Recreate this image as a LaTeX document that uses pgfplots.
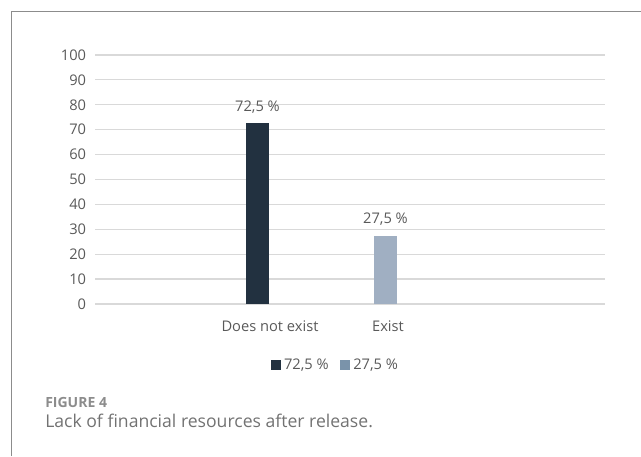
\documentclass[border=0pt]{standalone}
\usepackage{pgfplots}
\pgfplotsset{compat=1.18}
\usepackage{fontspec}
\setmainfont{Open Sans}

\definecolor{darkbar}{HTML}{223140}
\definecolor{lightbar}{HTML}{A0AFC2}
\definecolor{lightleg}{HTML}{7A93AA}
\definecolor{txt}{HTML}{595959}
\definecolor{gridc}{HTML}{D9D9D9}
\definecolor{frame}{HTML}{8C8C8C}

% 1 px of the reference = 0.75pt; y measured from the bottom
\newcommand{\px}[2]{({#1*0.75pt},{(456-#2)*0.75pt})}

\begin{document}
\begin{tikzpicture}
	\path[use as bounding box] \px{0}{456} rectangle \px{641}{0};
	% outer frame (cut at right and bottom)
	\draw[frame, line width=0.75pt] \px{11}{456} -- \px{11}{12} -- \px{641}{12};

	\begin{axis}[
		at={(71.25pt,114pt)}, anchor=south west,
		scale only axis,
		width=382.5pt, height=186.75pt,
		xmin=0, xmax=510,
		ymin=0, ymax=100,
		axis line style={draw=none},
		major tick length=0pt,
		ytick={0,10,...,100},
		ymajorgrids,
		major grid style={gridc, line width=0.9pt},
		xtick={175,293},
		xticklabels={Does not exist, Exist},
		tick label style={font=\fontsize{11}{13}\selectfont, text=txt},
		yticklabel style={inner sep=0pt, xshift=-6.5pt},
		xticklabel style={inner sep=0pt, yshift=-12pt},
		/pgf/number format/assume math mode=true,
		ybar, bar width=23, bar shift=0pt,
		nodes near coords,
		nodes near coords style={font=\fontsize{11}{13}\selectfont, text=txt,
			anchor=base, inner sep=0pt, yshift=9pt},
		legend columns=2,
		legend style={at={(0.4725,-0.245)}, anchor=center, draw=none, fill=none,
			font=\fontsize{11}{13}\selectfont, text=txt,
			inner sep=0pt, nodes={inner sep=2.5pt},
			/tikz/every even column/.append style={column sep=6pt}},
	]
	\addplot[fill=darkbar, draw=none,
		nodes near coords={72,5 \%},
		legend image code/.code={\fill[darkbar] (0pt,-3.75pt) rectangle (7.5pt,3.75pt);}]
		coordinates {(162.5,72.5)};
	\addlegendentry{72,5 \%}
	\addplot[fill=lightbar, draw=none,
		nodes near coords={27,5 \%},
		legend image code/.code={\fill[lightleg] (0pt,-3.75pt) rectangle (7.5pt,3.75pt);}]
		coordinates {(290.5,27.5)};
	\addlegendentry{27,5 \%}
	\end{axis}

	\node[anchor=base west, inner sep=0pt, text=frame, font=\fontsize{10.5}{12}\selectfont\bfseries]
		at \px{45}{408} {FIGURE 4};
	\node[anchor=base west, inner sep=0pt, text=txt!85, font=\fontsize{13.2}{15}\selectfont]
		at \px{45}{427} {Lack of financial resources after release.};
\end{tikzpicture}
\end{document}
